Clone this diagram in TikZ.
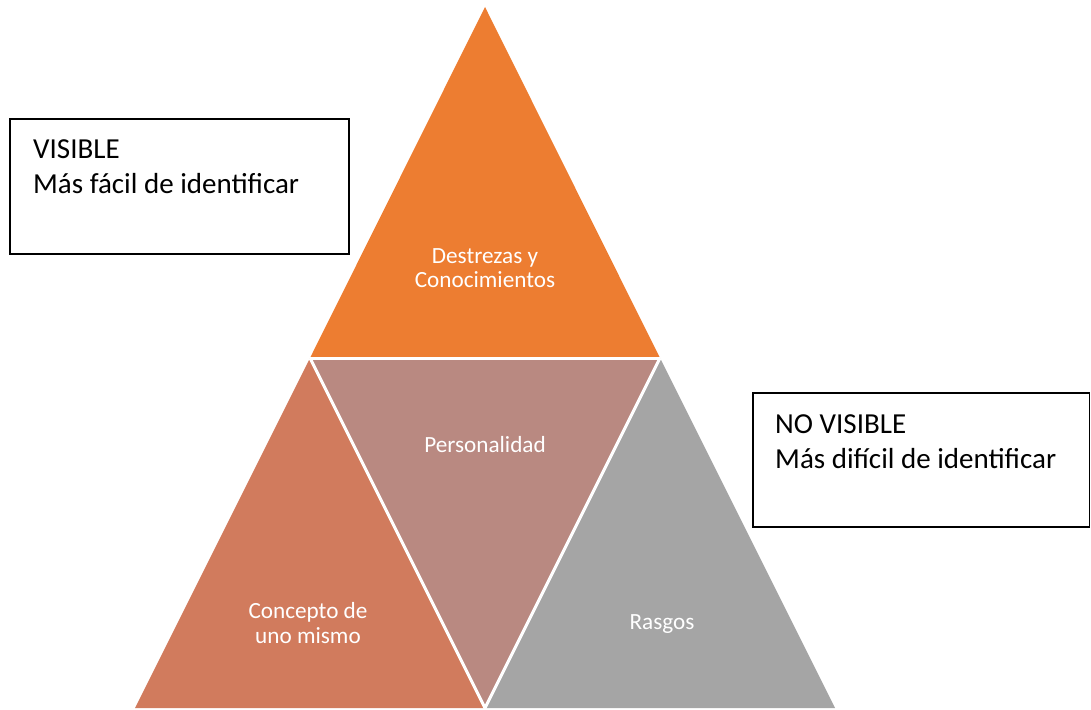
\documentclass[tikz,border=0pt]{standalone}
\usepackage{fontspec}
\setmainfont{Carlito}
\definecolor{cOrange}{HTML}{ED7D31}
\definecolor{cTerra}{HTML}{D17B5D}
\definecolor{cRose}{HTML}{B98981}
\definecolor{cGray}{HTML}{A5A5A5}
\begin{document}
\begin{tikzpicture}[x=1pt,y=-1pt,
  piece/.style={draw=white,line width=3pt,line join=miter},
  inlabel/.style={text=white,inner sep=0pt,anchor=base,font=\fontsize{23.2}{28}\selectfont},
  boxtext/.style={inner sep=0pt,anchor=base west,font=\fontsize{29}{34}\selectfont},
  frame/.style={draw=black,line width=1.5pt,fill=white}]
\useasboundingbox (0,0) rectangle (1091,709);
% corner points of the pyramid
\coordinate (A) at (485,7);
\coordinate (B) at (310,358);
\coordinate (C) at (660,358);
\coordinate (D) at (135,708);
\coordinate (E) at (485,708);
\coordinate (F) at (835,708);
% the four triangles
\fill[cOrange] (A) -- (B) -- (C) -- cycle;
\fill[cTerra] (B) -- (D) -- (E) -- cycle;
\fill[cRose] (B) -- (C) -- (E) -- cycle;
\fill[cGray] (C) -- (E) -- (F) -- cycle;
\draw[piece] (B) -- (C);
\draw[piece] (B) -- (E) -- (C);
% labels inside the triangles
\node[inlabel] (dest1) at (485,263) {Destrezas y};
\node[inlabel] (dest2) at (485,287) {Conocimientos};
\node[inlabel] (pers) at (485,452) {Personalidad};
\node[inlabel] (conc1) at (308,618) {Concepto de};
\node[inlabel] (conc2) at (308,643) {uno mismo};
\node[inlabel] (rasg) at (662,629) {Rasgos};
% side boxes
\draw[frame] (10,119) rectangle (349,254);
\node[boxtext] (vis1) at (33,158) {VISIBLE};
\node[boxtext] (vis2) at (33,193) {Más fácil de identificar};
\draw[frame] (753,393) rectangle (1089.5,527);
\node[boxtext] (nvis1) at (775,433) {NO VISIBLE};
\node[boxtext] (nvis2) at (775,468) {Más difícil de identificar};
\end{tikzpicture}
\end{document}
